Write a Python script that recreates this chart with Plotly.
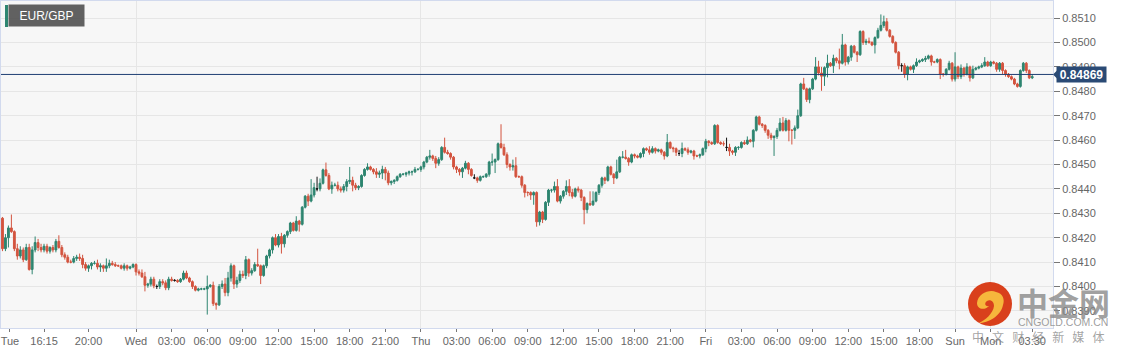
import plotly.graph_objects as go

PAIR = "EUR/GBP"
LAST_PRICE = 0.84869
FIRST_OPEN = 84150  # prices below are in 1e-5 units

closes = [
84280,84155,84200,84240,84225,84155,84125,84150,84110,84160,84070,84150,
84180,84160,84150,84165,84145,84160,84150,84185,84160,84130,84120,84100,
84100,84115,84120,84115,84090,84075,84085,84095,84095,84080,84085,84075,
84085,84095,84090,84085,84085,84075,84085,84075,84080,84090,84060,84055,
84040,84005,84010,84030,84003,84000,84020,84015,83995,84030,84025,84025,
84020,84030,84055,84035,84020,84000,83985,83990,83990,83990,84000,84005,
83930,83925,84000,84010,83975,84035,84085,84010,84025,84050,84045,84110,
84055,84065,84090,84085,84045,84085,84125,84150,84200,84170,84205,84175,
84210,84225,84260,84230,84268,84255,84325,84370,84350,84375,84405,84400,
84423,84478,84455,84400,84415,84415,84400,84395,84410,84430,84435,84415,
84405,84410,84455,84480,84490,84480,84470,84460,84465,84480,84465,84425,
84430,84435,84450,84460,84460,84465,84470,84470,84480,84480,84490,84510,
84530,84535,84525,84505,84520,84570,84550,84545,84530,84490,84480,84470,
84485,84505,84480,84455,84445,84435,84450,84450,84460,84510,84510,84520,
84585,84570,84540,84500,84490,84495,84450,84450,84415,84385,84385,84375,
84385,84265,84305,84275,84345,84395,84395,84410,84350,84370,84390,84410,
84385,84370,84400,84395,84365,84315,84340,84335,84350,84385,84415,84445,
84435,84490,84460,84445,84470,84530,84530,84525,84510,84540,84535,84530,
84545,84565,84560,84550,84565,84555,84560,84550,84535,84590,84568,
84565,84550,84545,84565,84560,84550,84555,84535,84535,84540,84565,84595,
84590,84585,84660,84590,84585,84585,84570,84555,84550,84570,84570,84590,
84585,84600,84595,84640,84695,84665,84660,84640,84620,84610,84615,84640,
84670,84640,84680,84640,84640,84650,84700,84830,84810,84766,84810,84850,
84900,84875,84862,84897,84915,84905,84935,84925,84915,84990,84920,84940,
84985,84960,84950,85045,85000,85005,85000,84990,85020,85050,85070,85085,
85050,85025,85000,84960,84905,84905,84870,84900,84890,84905,84920,84925,
84930,84935,84945,84920,84920,84930,84870,84870,84890,84915,84850,84900,
84860,84895,84870,84900,84855,84890,84895,84900,84905,84920,84905,84920,84915,
84890,84915,84885,84870,84860,84850,84830,84820,84885,84915,84885,84855,
84860,
]

upper_wicks = [
5,5,15,10,55,5,20,15,10,15,15,15,
25,15,15,10,10,5,10,10,25,10,10,10,
10,10,10,15,15,10,5,5,10,15,10,5,
30,15,10,10,5,5,10,5,5,5,5,10,
15,20,5,10,10,5,10,10,10,10,10,5,
5,5,10,10,5,5,5,5,5,5,45,5,
15,5,10,15,25,25,10,5,15,15,15,15,
5,10,10,65,5,5,5,5,5,15,10,15,
5,5,5,5,20,5,5,5,10,65,20,45,
20,5,30,10,15,10,15,10,10,10,55,15,
10,5,5,5,15,5,5,15,10,15,10,10,
5,5,5,5,5,5,5,5,10,5,5,5,
5,25,5,10,10,5,40,10,5,5,5,5,
5,10,5,5,5,5,5,5,5,5,35,5,
5,80,15,10,5,25,35,5,5,5,5,5,
5,5,5,5,5,5,5,20,30,5,5,25,
30,15,5,10,5,5,5,50,40,5,5,5,
5,5,5,5,50,5,25,30,5,5,5,5,
5,5,5,15,10,5,5,5,5,35,5,
5,5,10,25,5,10,5,5,5,5,5,10,
5,5,5,5,5,10,25,15,5,5,5,5,
10,15,5,5,5,5,5,5,5,10,5,10,
20,25,10,5,5,10,25,5,25,5,5,5,
40,25,25,5,35,5,15,5,50,45,5,5,
5,5,5,5,5,10,15,5,5,10,45,25,
15,5,5,5,5,10,10,5,5,5,15,5,
5,10,5,5,5,5,5,5,5,10,5,60,
5,15,5,15,5,15,5,5,10,20,5,5,5,
5,5,5,5,5,5,5,5,5,5,5,5,
10,
]

lower_wicks = [
5,10,10,40,5,10,15,10,10,5,5,20,
10,15,10,10,10,10,10,10,5,10,10,5,
5,5,10,10,15,10,15,15,5,10,20,15,
15,10,5,5,5,5,10,10,5,5,15,10,
5,25,10,10,10,10,10,10,10,10,5,5,
5,5,5,5,5,10,5,5,5,5,105,5,
10,20,5,10,15,15,15,20,15,10,10,15,
15,10,5,5,35,5,10,10,15,5,10,40,
15,10,10,5,5,30,5,5,20,5,10,10,
10,5,5,5,20,5,10,10,10,20,10,25,
10,10,5,5,5,5,10,15,15,25,30,10,
10,10,5,5,5,10,10,15,5,5,10,10,
5,10,10,20,10,5,5,5,10,10,15,15,
25,5,20,5,5,10,5,5,5,10,15,45,
5,5,5,15,15,15,5,5,10,20,15,20,
40,20,15,15,5,15,10,10,5,10,10,15,
15,10,5,10,15,60,15,5,5,5,10,10,
15,5,5,25,5,5,5,5,15,5,10,5,
5,15,5,10,5,10,5,10,15,5,5,
15,15,10,15,5,10,5,15,5,10,5,15,
15,5,5,5,5,10,15,20,10,15,10,5,
5,5,5,25,5,5,10,10,15,10,75,10,
5,5,5,45,58,35,5,5,5,10,15,5,
5,10,60,40,40,5,30,10,25,5,15,10,
15,5,30,5,10,10,5,5,35,5,5,10,
5,5,5,5,15,25,15,25,5,15,5,5,
5,10,5,15,5,5,20,10,5,5,10,10,
10,10,10,5,15,5,5,5,5,5,5,5,5,
10,10,15,10,5,5,5,5,5,5,10,5,
5,
]

doji_bars = [53, 59, 107, 160, 229, 245, 304]

tick_bars = [3.5, 15, 30, 46, 58, 70, 82, 94, 106, 118, 130, 142, 154, 166, 178, 190,
             202, 214, 226, 238, 250, 262, 274, 286, 298, 310, 322, 334, 348]
tick_labels = ["Tue", "16:15", "20:00", "Wed", "03:00", "06:00", "09:00", "12:00",
               "15:00", "18:00", "21:00", "Thu", "03:00", "06:00", "09:00", "12:00",
               "15:00", "18:00", "21:00", "Fri", "03:00", "06:00", "09:00", "12:00",
               "15:00", "18:00", "Sun", "Mon", "03:30"]
day_bars = [46, 142, 238, 322, 334]
price_ticks = [0.8390, 0.8400, 0.8410, 0.8420, 0.8430, 0.8440, 0.8450, 0.8460,
               0.8470, 0.8480, 0.8490, 0.8500, 0.8510]

UP, DOWN = "#2e8570", "#d3543f"
W, H = 1124, 354
ML, MR, MT, MB = 1, 71, 1, 26
PW, PH = W - ML - MR, H - MT - MB

n = len(closes)
opens = [FIRST_OPEN] + closes[:-1]
highs = [max(o, c) + u for o, c, u in zip(opens, closes, upper_wicks)]
lows = [min(o, c) - d for o, c, d in zip(opens, closes, lower_wicks)]


def pick(idx, seq, scale=1e5):
    return [seq[i] / scale for i in idx]


regular = [i for i in range(n) if i not in doji_bars]

fig = go.Figure()
fig.add_trace(go.Candlestick(
    x=regular, open=pick(regular, opens), high=pick(regular, highs),
    low=pick(regular, lows), close=pick(regular, closes),
    increasing=dict(line=dict(color=UP, width=1), fillcolor=UP),
    decreasing=dict(line=dict(color=DOWN, width=1), fillcolor=DOWN),
    whiskerwidth=0, hoverinfo="skip", showlegend=False))
fig.add_trace(go.Candlestick(
    x=doji_bars, open=pick(doji_bars, closes), high=pick(doji_bars, highs),
    low=pick(doji_bars, lows), close=pick(doji_bars, closes),
    increasing=dict(line=dict(color="#111111", width=1), fillcolor="#111111"),
    decreasing=dict(line=dict(color="#111111", width=1), fillcolor="#111111"),
    whiskerwidth=0, hoverinfo="skip", showlegend=False))


def px(x):
    return (x - ML) / PW


def py(y):
    return (H - MB - y) / PH


def path(s):
    out, tokens, is_x = [], s.split(), True
    for t in tokens:
        if t.isalpha():
            out.append(t)
            is_x = True
        else:
            out.append(f"{px(float(t)) if is_x else py(float(t)):.5f}")
            is_x = not is_x
    return " ".join(out)


shapes = [
    dict(type="line", xref="paper", x0=0, x1=1, yref="y", y0=LAST_PRICE, y1=LAST_PRICE,
         line=dict(color="#1f3f73", width=1), layer="above"),
    dict(type="path", xref="paper", xsizemode="pixel", xanchor=1, yref="y",
         ysizemode="pixel", yanchor=LAST_PRICE, path="M 0 0 L 5 -5 L 5 5 Z",
         fillcolor="#2a4a75", line=dict(width=0)),
    dict(type="rect", xref="paper", yref="paper", x0=px(5), x1=px(8), y0=py(27), y1=py(5),
         fillcolor=UP, line=dict(width=0)),
    dict(type="circle", xref="paper", yref="paper", x0=px(968), x1=px(1012), y0=py(326), y1=py(282),
         fillcolor="#d9401c", line=dict(width=0)),
    dict(type="path", xref="paper", yref="paper",
         path=path("M 977 303 C 978 293 990 289 996 292 C 1003 293 1005 300 1003 305 "
                   "C 1001 316 988 323 979 323 C 985 320 993 314 994 306 "
                   "C 994 301 990 299 987 301 C 984 303 985 307 989 306 C 984 311 977 309 977 303 Z"),
         fillcolor="#f6b73c", line=dict(width=0)),
]

annotations = [
    dict(xref="paper", yref="paper", x=px(8), y=py(16), xanchor="left", yanchor="middle",
         text=PAIR, showarrow=False, font=dict(family="Liberation Sans", size=12, color="white"),
         bgcolor="rgba(80,80,80,0.9)", borderpad=3, width=69, height=15, align="center"),
    dict(xref="paper", yref="y", x=1, y=LAST_PRICE, xanchor="left", yanchor="middle", xshift=3,
         text=f"<b>{LAST_PRICE:.5f}</b>", showarrow=False,
         font=dict(family="Liberation Sans", size=12, color="white"),
         bgcolor="#2a4a75", borderpad=1, width=47, height=13, align="center"),
    dict(xref="paper", yref="paper", x=px(1063), y=py(301), xanchor="center", yanchor="middle",
         text="<b>中金网</b>", showarrow=False,
         font=dict(family="Noto Sans CJK SC", size=31, color="rgba(135,135,135,0.8)")),
    dict(xref="paper", yref="paper", x=px(1063), y=py(322), xanchor="center", yanchor="middle",
         text="CNGOLD.COM.CN", showarrow=False,
         font=dict(family="Liberation Sans", size=10.5, color="rgba(140,140,140,0.85)")),
    dict(xref="paper", yref="paper", x=px(1038), y=py(336), xanchor="center", yanchor="middle",
         text="\u00a0\u00a0\u00a0".join("中文财经新媒体"), showarrow=False,
         font=dict(family="Noto Sans CJK SC", size=12, color="rgba(140,140,140,0.8)")),
]

AXIS_TEXT = dict(family="Liberation Sans", size=11, color="#666666")
fig.update_layout(
    width=W, height=H, autosize=False, boxgap=0.12,
    margin=dict(l=ML, r=MR, t=MT, b=MB, pad=0),
    paper_bgcolor="white", plot_bgcolor="#f7f7f7",
    showlegend=False, shapes=shapes, annotations=annotations,
    xaxis=dict(
        range=[0.5, 355.0], rangeslider=dict(visible=False), tickmode="array",
        tickvals=tick_bars, ticktext=tick_labels, tickfont=AXIS_TEXT,
        ticks="outside", ticklen=3, tickcolor="#777777", showgrid=False, zeroline=False,
        showline=True, mirror=True, linecolor="#d2daee", linewidth=1,
        minor=dict(tickmode="array", tickvals=day_bars, showgrid=True,
                   gridcolor="#e6e6e6", gridwidth=1, ticks=""),
    ),
    yaxis=dict(
        side="right", range=[0.83830, 0.85170], tickmode="array", tickvals=price_ticks,
        tickformat=".4f", tickfont=AXIS_TEXT, ticks="outside", ticklen=6, tickcolor="#777777",
        showgrid=True, gridcolor="#e6e6e6", gridwidth=1, zeroline=False,
        showline=True, mirror=True, linecolor="#d2daee", linewidth=1,
    ),
)

fig.write_html("out.html", config={"displayModeBar": False},
               post_script="document.body.style.margin='0';document.documentElement.style.overflow='hidden';")
